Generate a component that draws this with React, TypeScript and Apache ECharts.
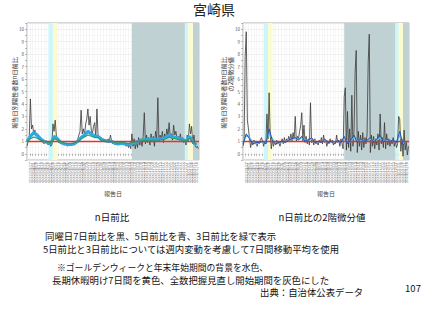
import React, { useEffect, useRef } from "react";
import * as echarts from "echarts";

const START_DATE = "2022-03-22";
const END_DAY = 305;
const BLACK_STEP = 2; // days between black-line samples
const SMOOTH_STEP = 6; // days between smoothed-line samples

// Left: n日前比 (7日前比 black, 5日前比 blue, 3日前比 green)
const leftBlack = [
  0.6, 1.0, 1.4, 4.4, 2.0, 2.3, 1.6, 1.9, 1.4, 1.5, 1.2, 1.3, 1.0, 1.1, 0.9, 0.8, 0.9, 1.0, 0.8, 0.7,
  0.9, 0.6, 0.7, 2.4, 1.8, 2.7, 1.5, 1.1, 0.9, 1.0, 0.8, 0.9, 0.7, 0.8, 0.7, 0.8, 0.6, 0.8, 0.7, 0.8,
  0.7, 0.9, 0.8, 1.0, 0.9, 1.2, 1.5, 1.8, 3.5, 1.6, 2.0, 1.5, 2.4, 2.8, 3.6, 2.3, 3.0, 1.9, 1.6, 2.2,
  2.5, 1.3, 3.6, 1.5, 1.4, 1.2, 1.3, 1.1, 1.2, 1.0, 1.1, 1.0, 1.2, 1.0, 1.5, 1.0, 0.8, 0.9, 0.7, 0.8,
  0.7, 0.8, 0.8, 0.9, 0.8, 0.7, 0.8, 0.7, 0.6, 0.8, 0.5, 0.7, 0.4, 1.6, 0.6, 1.2, 0.4, 1.0, 0.5, 1.3,
  0.7, 1.2, 0.6, 1.4, 3.3, 0.8, 1.5, 0.9, 1.3, 0.7, 1.6, 1.0, 1.4, 0.6, 1.8, 1.2, 4.5, 1.0, 1.5, 1.1,
  1.8, 0.9, 1.6, 1.2, 2.0, 1.4, 2.5, 1.3, 1.6, 1.1, 2.3, 1.5, 1.8, 1.2, 1.4, 1.1, 1.6, 1.0, 1.3, 0.9,
  1.1, 0.7, 1.5, 1.0, 2.4, 1.6, 2.2, 0.8, 1.5, 0.7, 0.5, 0.6, 0.4,
];
const leftBlue = [
  1.0, 1.4, 1.7, 1.5, 1.2, 1.0, 0.9, 0.8, 1.4, 1.2, 0.9, 0.8, 0.75, 0.75, 0.8, 1.0, 1.3, 1.5, 1.8, 1.6,
  1.4, 1.4, 1.15, 1.05, 1.0, 1.0, 0.85, 0.8, 0.85, 0.8, 0.75, 0.85, 0.9, 1.0, 1.1, 1.15, 1.1, 1.2, 1.15, 1.2,
  1.2, 1.3, 1.5, 1.35, 1.3, 1.2, 1.15, 1.0, 1.4, 1.0, 0.7,
];
const leftGreen = [
  1.0, 1.2, 1.35, 1.25, 1.1, 1.0, 0.9, 0.85, 1.2, 1.1, 0.9, 0.85, 0.8, 0.8, 0.85, 1.0, 1.2, 1.35, 1.5, 1.4,
  1.3, 1.3, 1.1, 1.05, 1.0, 1.0, 0.9, 0.85, 0.9, 0.85, 0.8, 0.9, 0.95, 1.0, 1.05, 1.1, 1.05, 1.1, 1.1, 1.1,
  1.15, 1.2, 1.35, 1.25, 1.2, 1.15, 1.1, 1.0, 1.25, 0.95, 0.75,
];

// Right: n日前比の2階微分値
const rightBlack = [
  0.6, 1.0, 7.8, 9.8, 2.7, 2.0, 1.2, 0.5, 1.0, 0.7, 1.1, 0.8, 0.9, 0.6, 1.0, 0.8, 1.1, 1.3, 1.0, 0.6,
  1.0, 0.8, 3.2, 1.2, 4.9, 1.5, 0.4, 1.1, 0.6, 1.0, 0.7, 1.1, 0.8, 0.9, 0.6, 1.0, 1.2, 0.8, 1.3, 0.9,
  1.2, 1.0, 1.4, 1.1, 1.6, 1.0, 1.7, 1.2, 3.0, 1.0, 1.4, 1.2, 1.8, 2.3, 3.3, 1.0, 2.3, 0.9, 1.4, 0.8,
  1.2, 0.7, 4.1, 0.9, 1.1, 0.7, 1.2, 0.8, 1.0, 0.7, 1.1, 0.9, 1.3, 0.8, 1.5, 0.9, 1.1, 0.6, 1.0, 0.8,
  1.2, 0.9, 1.1, 0.7, 1.0, 0.8, 1.5, 0.9, 1.1, 0.6, 1.2, 0.8, 0.4, 4.6, 5.3, 0.3, 3.4, 0.5, 2.0, 0.2,
  4.7, 0.6, 1.8, 6.5, 8.3, 0.1, 1.8, 0.6, 1.5, 0.3, 1.7, 0.5, 1.3, 0.8, 1.6, 7.3, 9.6, 0.1, 1.5, 0.6,
  1.4, 0.4, 1.2, 0.7, 1.6, 0.3, 3.2, 0.8, 1.3, 0.5, 2.5, 0.4, 1.6, 0.7, 1.2, 0.6, 1.0, 0.8, 1.3, 0.6,
  1.0, 0.5, 0.8, 3.0, 2.8, 0.2, 1.2, -0.2, 1.9, 0.3, 1.0, -0.1, 0.6,
];
const rightBlue = [
  0.8, 1.6, 1.2, 0.8, 0.9, 0.9, 1.0, 0.8, 2.0, 1.0, 0.8, 0.9, 1.0, 0.9, 1.1, 1.2, 1.3, 1.1, 1.4, 1.0,
  1.1, 1.3, 0.9, 1.0, 0.9, 1.2, 0.9, 1.0, 0.8, 1.1, 0.9, 1.4, 0.8, 1.1, 1.5, 0.9, 1.2, 1.0, 1.1, 1.3,
  0.9, 1.2, 1.5, 0.9, 1.2, 1.0, 1.1, 0.9, 1.8, 0.7, 1.0,
];
const rightCyan = [
  0.9, 1.5, 1.3, 0.9, 0.8, 0.9, 1.0, 0.9, 1.7, 1.2, 0.8, 0.85, 0.95, 1.0, 1.0, 1.15, 1.25, 1.15, 1.3, 1.1,
  1.05, 1.2, 1.0, 0.95, 0.95, 1.1, 1.0, 0.95, 0.85, 1.0, 0.95, 1.2, 0.9, 1.0, 1.3, 1.0, 1.1, 1.05, 1.05, 1.2,
  1.0, 1.1, 1.3, 1.0, 1.1, 1.05, 1.05, 0.95, 1.5, 0.8, 0.95,
];

const cyanPeriods = [["2022-04-29", "2022-05-07"], ["2022-12-27", "2023-01-02"]];
const yellowPeriods = [["2022-05-07", "2022-05-15"], ["2023-01-02", "2023-01-10"]];
const grayPeriods = [["2022-09-24", "2022-12-27"], ["2023-01-10", "2023-01-21"]];

const FONT = "'Noto Sans CJK JP', 'Noto Sans', sans-serif";
const DAY = 86400000;
const startMs = Date.parse(START_DATE);
const dayOf = (s: string) => (Date.parse(s) - startMs) / DAY;
const dateLabel = (d: number) => {
  const dt = new Date(startMs + d * DAY);
  const m = String(dt.getUTCMonth() + 1).padStart(2, "0");
  const dd = String(dt.getUTCDate()).padStart(2, "0");
  return `${dt.getUTCFullYear()}/${m}/${dd}`;
};

function bands(periods: string[][], color: string) {
  return periods.map(([a, b]) => [
    { xAxis: dayOf(a), itemStyle: { color } },
    { xAxis: dayOf(b) },
  ]);
}

function buildSeries(gi: number, lines: { data: number[]; step: number; color: string; width: number; opacity?: number; z?: number }[]) {
  const out: any[] = [
    {
      type: "line",
      xAxisIndex: gi,
      yAxisIndex: gi,
      data: [],
      silent: true,
      z: 1,
      markArea: {
        silent: true,
        data: [
          ...bands(grayPeriods, "#bfd1d2"),
          ...bands(cyanPeriods, "#cdf6fa"),
          ...bands(yellowPeriods, "#fcfbcf"),
        ],
      },
    },
  ];
  lines.forEach((l) => {
    out.push({
      type: "line",
      xAxisIndex: gi,
      yAxisIndex: gi,
      data: l.data.map((v, i) => [i * l.step, v]),
      showSymbol: false,
      symbol: "none",
      z: l.z ?? 3,
      lineStyle: { color: l.color, width: l.width, opacity: l.opacity ?? 1 },
    });
  });
  out.push({
    type: "line",
    xAxisIndex: gi,
    yAxisIndex: gi,
    data: [],
    z: 6,
    markLine: {
      silent: true,
      symbol: "none",
      label: { show: false },
      lineStyle: { color: "#e5322b", width: 1.3, type: "solid" },
      data: [{ yAxis: 1 }],
    },
  });
  return out;
}

function xAxisOf(gi: number) {
  return {
    type: "value",
    gridIndex: gi,
    min: 0,
    max: END_DAY,
    interval: 5,
    name: "報告日",
    nameLocation: "middle",
    nameGap: 30,
    nameTextStyle: { fontSize: 6, color: "#444", fontFamily: FONT },
    axisLine: { show: false },
    axisTick: { show: true, length: 2, lineStyle: { color: "#777", width: 0.5 } },
    axisLabel: {
      rotate: 90,
      fontSize: 4,
      color: "#666",
      margin: 2,
      fontFamily: FONT,
      formatter: (v: number) => dateLabel(v),
    },
    splitLine: { show: true, lineStyle: { color: "#ececec", width: 0.5 } },
  };
}

function yAxisOf(gi: number) {
  return {
    type: "value",
    gridIndex: gi,
    min: -0.5,
    max: 10.5,
    interval: 0.5,
    axisLine: { show: false },
    axisTick: { show: true, length: 2, lineStyle: { color: "#777", width: 0.5 } },
    axisLabel: {
      fontSize: 4.5,
      color: "#555",
      margin: 3,
      fontFamily: FONT,
      formatter: (v: number) => (Number.isInteger(v) ? String(v) : ""),
    },
    splitLine: { show: true, lineStyle: { color: ["#f3f3f3", "#e2e2e2"], width: 0.5 } },
  };
}

export default function App() {
  const ref = useRef<HTMLDivElement>(null);
  useEffect(() => {
    if (!ref.current) return;
    const chart = echarts.init(ref.current, undefined, { renderer: "svg" });
    const textStyle = (x: number, y: number, text: string, fontSize: number, extra: any = {}) => ({
      type: "text",
      x,
      y,
      silent: true,
      style: { text, fontSize, lineHeight: 10, fill: "#111", fontFamily: FONT, verticalAlign: "middle", ...extra },
    });
    const vText = (x: number, yTop: number, text: string) => ({
      type: "text",
      x,
      y: yTop,
      rotation: Math.PI / 2,
      silent: true,
      style: { text, fontSize: 6.2, lineHeight: 7, fill: "#333", fontFamily: FONT, align: "right", verticalAlign: "middle" },
    });
    chart.setOption({
      animation: false,
      backgroundColor: "#fff",
      grid: [
        { left: 27, top: 23, width: 172, height: 137, show: true, borderColor: "#999", borderWidth: 0.8, backgroundColor: "#fff" },
        { left: 243, top: 23, width: 166, height: 137, show: true, borderColor: "#999", borderWidth: 0.8, backgroundColor: "#fff" },
      ],
      xAxis: [xAxisOf(0), xAxisOf(1)],
      yAxis: [yAxisOf(0), yAxisOf(1)],
      series: [
        ...buildSeries(0, [
          { data: leftBlack, step: BLACK_STEP, color: "#3a3a3a", width: 0.9, opacity: 0.9 },
          { data: leftBlue, step: SMOOTH_STEP, color: "#2ea9e6", width: 3.2, z: 4 },
          { data: leftGreen, step: SMOOTH_STEP, color: "#2f9d5a", width: 1.1, z: 5 },
        ]),
        ...buildSeries(1, [
          { data: rightBlack, step: BLACK_STEP, color: "#3a3a3a", width: 0.9, opacity: 0.9 },
          { data: rightCyan, step: SMOOTH_STEP, color: "#5ec7d6", width: 1.5, z: 4 },
          { data: rightBlue, step: SMOOTH_STEP, color: "#2b4fb3", width: 1, z: 5 },
        ]),
      ],
      graphic: [
        {
          type: "text", x: 214, y: 9, silent: true,
          style: { text: "宮崎県", fontSize: 14, fill: "#222", fontFamily: FONT, align: "center", verticalAlign: "middle" },
        },
        vText(14, 57, "報告日別陽性者数n日前比"),
        vText(223, 57, "報告日別陽性者数n日前比"),
        vText(230, 57, "の2階微分値"),
        textStyle(112, 217, "n日前比", 9.5, { align: "center" }),
        textStyle(322, 217, "n日前比の2階微分値", 9.5, { align: "center" }),
        textStyle(45, 236, "同曜日7日前比を黒、5日前比を青、3日前比を緑で表示", 9.4),
        textStyle(43, 248.5, "5日前比と3日前比については週内変動を考慮して7日間移動平均を使用", 9.4),
        textStyle(57, 267.5, "※ゴールデンウィークと年末年始期間の背景を水色、", 8.8),
        textStyle(52, 279.5, "長期休暇明け7日間を黄色、全数把握見直し開始期間を灰色にした", 9.4),
        textStyle(260, 291.5, "出典：自治体公表データ", 9.4),
        textStyle(413, 288, "107", 9.5, { align: "center" }),
      ],
    });
    return () => chart.dispose();
  }, []);
  return <div ref={ref} style={{ width: 427, height: 320, position: "absolute", left: 0, top: 0 }} />;
}
